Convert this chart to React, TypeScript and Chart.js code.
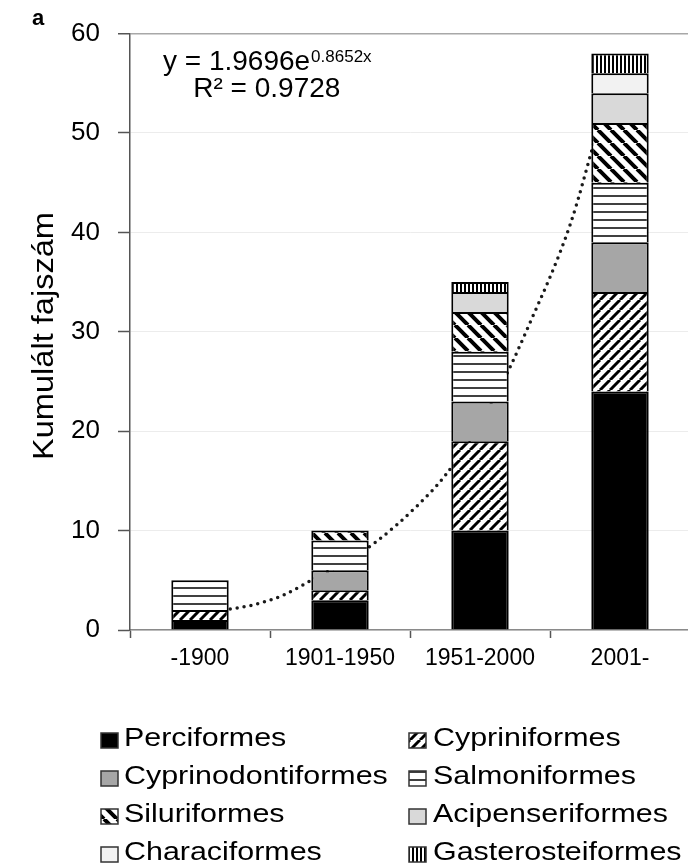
import React, { useEffect, useRef } from 'react';
import { Chart, registerables } from 'chart.js';

Chart.register(...registerables);

// ---------- data ----------
const categories = ['-1900', '1901-1950', '1951-2000', '2001-'];
const seriesNames = [
  'Perciformes',
  'Cypriniformes',
  'Cyprinodontiformes',
  'Salmoniformes',
  'Siluriformes',
  'Acipenseriformes',
  'Characiformes',
  'Gasterosteiformes',
];
const perciformes = [1, 3, 10, 24];
const cypriniformes = [1, 1, 9, 10];
const cyprinodontiformes = [null, 2, 4, 5];
const salmoniformes = [3, 3, 5, 6];
const siluriformes = [null, 1, 4, 6];
const acipenseriformes = [null, null, 2, 3];
const characiformes = [null, null, null, 2];
const gasterosteiformes = [null, null, 1, 2];
const seriesValues = [
  perciformes,
  cypriniformes,
  cyprinodontiformes,
  salmoniformes,
  siluriformes,
  acipenseriformes,
  characiformes,
  gasterosteiformes,
];
const yTicks = [0, 10, 20, 30, 40, 50, 60];
// dotted exponential trend line (x in category index units, 1 = first bar)
const trendX = [1.0, 1.23, 1.48, 1.75, 2.0, 2.23, 2.55, 2.78, 3.0, 3.22, 3.45, 3.79, 4.0];
const trendY = [2.0, 2.5, 3.5, 5.3, 7.0, 8.9, 12.4, 15.5, 19.5, 24.3, 30.5, 40.9, 50.0];
const equationMain = 'y = 1.9696e';
const equationExp = '0.8652x';
const equationR2 = 'R² = 0.9728';
const yTitle = 'Kumulált fajszám';
const panelLabel = 'a';

// ---------- styles ----------
type Kind = 'solid' | 'fwd' | 'back' | 'horiz' | 'vert';
const seriesKinds: Kind[] = ['solid', 'fwd', 'solid', 'horiz', 'back', 'solid', 'solid', 'vert'];
const seriesColors = ['#000000', '#ffffff', '#a6a6a6', '#ffffff', '#ffffff', '#d9d9d9', '#f2f2f2', '#ffffff'];
const FONT = '"Liberation Sans", Arial, Helvetica, sans-serif';

function makeFill(ctx: CanvasRenderingContext2D, kind: Kind, color: string): any {
  if (kind === 'solid') return color;
  const t = document.createElement('canvas');
  let w = 10;
  let h = 10;
  if (kind === 'back') { w = 13; h = 13; }
  if (kind === 'horiz') { w = 4; h = 8; }
  if (kind === 'vert') { w = 4; h = 4; }
  t.width = w;
  t.height = h;
  const g = t.getContext('2d')!;
  g.fillStyle = '#ffffff';
  g.fillRect(0, 0, w, h);
  if (kind === 'fwd') {
    g.strokeStyle = '#000';
    g.lineWidth = 3;
    g.beginPath();
    for (const k of [-1, 0, 1]) {
      g.moveTo(k * w, h);
      g.lineTo(k * w + w, 0);
    }
    g.stroke();
  } else if (kind === 'back') {
    g.strokeStyle = '#000';
    g.lineWidth = 4;
    g.beginPath();
    for (const k of [-1, 0, 1]) {
      g.moveTo(k * w, 0);
      g.lineTo(k * w + w, h);
    }
    g.stroke();
  } else if (kind === 'horiz') {
    g.fillStyle = '#404040';
    g.fillRect(0, 3, w, 2);
  } else if (kind === 'vert') {
    g.fillStyle = '#000';
    g.fillRect(0, 0, 2, h);
  }
  return ctx.createPattern(t, 'repeat');
}

const textPlugin = {
  id: 'customText',
  afterDraw(chart: any) {
    const ctx: CanvasRenderingContext2D = chart.ctx;
    ctx.save();
    ctx.fillStyle = '#000';
    ctx.textAlign = 'left';
    ctx.textBaseline = 'alphabetic';

    // panel label
    ctx.font = `bold 22px ${FONT}`;
    ctx.fillText(panelLabel, 32, 25);

    // y-axis title
    ctx.font = `29px ${FONT}`;
    const tw = ctx.measureText(yTitle).width;
    ctx.save();
    ctx.translate(53, 336);
    ctx.rotate(-Math.PI / 2);
    ctx.scale(248 / tw, 1);
    ctx.textAlign = 'center';
    ctx.fillText(yTitle, 0, 0);
    ctx.restore();

    // equation
    ctx.font = `28px ${FONT}`;
    const x0 = 163;
    const w1 = ctx.measureText(equationMain).width;
    ctx.fillText(equationMain, x0, 70);
    ctx.font = `17px ${FONT}`;
    const w2 = ctx.measureText(equationExp).width;
    ctx.fillText(equationExp, x0 + w1 + 1, 62);
    ctx.font = `28px ${FONT}`;
    ctx.textAlign = 'center';
    ctx.fillText(equationR2, x0 + (w1 + w2) / 2, 97);
    ctx.textAlign = 'left';

    // legend
    const bars = chart.data.datasets.filter((d: any) => d.type === 'bar');
    const swX = [101, 409];
    const txX = [124, 433];
    bars.forEach((d: any, i: number) => {
      const col = i % 2;
      const row = Math.floor(i / 2);
      const base = 746 + row * 38;
      ctx.fillStyle = d.backgroundColor;
      ctx.fillRect(swX[col], base - 13, 17, 15);
      ctx.strokeStyle = '#333';
      ctx.lineWidth = 1.5;
      ctx.strokeRect(swX[col], base - 13, 17, 15);
      ctx.fillStyle = '#000';
      ctx.font = `26px ${FONT}`;
      ctx.save();
      ctx.translate(txX[col], base);
      ctx.scale(1.17, 1);
      ctx.fillText(d.label, 0, 0);
      ctx.restore();
    });
    ctx.restore();
  },
};

export default function App() {
  const ref = useRef<HTMLCanvasElement>(null);

  useEffect(() => {
    const canvas = ref.current!;
    const ctx = canvas.getContext('2d')!;
    Chart.defaults.font.family = FONT;
    Chart.defaults.color = '#000';

    const barSets: any[] = seriesNames.map((name, i) => ({
      type: 'bar',
      label: name,
      data: seriesValues[i],
      backgroundColor: makeFill(ctx, seriesKinds[i], seriesColors[i]),
      borderColor: '#000',
      borderWidth: 2,
      barPercentage: 0.41,
      categoryPercentage: 1,
      grouped: false,
      stack: 'all',
      xAxisID: 'x',
      yAxisID: 'y',
      order: 0,
    }));

    const trendSet: any = {
      type: 'line',
      label: 'trend',
      data: trendX.map((x, i) => ({ x, y: trendY[i] })),
      xAxisID: 'x2',
      yAxisID: 'y2',
      borderColor: '#1a1a1a',
      borderWidth: 3.5,
      borderDash: [0, 7],
      borderCapStyle: 'round',
      pointRadius: 0,
      fill: false,
      cubicInterpolationMode: 'monotone',
      order: 1,
    };

    const chart = new Chart(canvas, {
      type: 'bar',
      data: { labels: categories, datasets: [...barSets, trendSet] },
      options: {
        responsive: false,
        animation: false,
        devicePixelRatio: 1,
        layout: { padding: { top: 32, right: 10, left: 0, bottom: 0 } },
        plugins: { legend: { display: false }, tooltip: { enabled: false } },
        scales: {
          x: {
            type: 'category',
            stacked: true,
            offset: true,
            grid: {
              display: true,
              drawOnChartArea: false,
              drawTicks: true,
              tickLength: 8,
              tickColor: '#555',
              tickWidth: 1.5,
              offset: true,
            },
            border: { display: true, color: '#8a8a8a', width: 1.5 },
            ticks: { font: { size: 23 }, color: '#000', padding: 7, maxRotation: 0, autoSkip: false },
            afterFit: (s: any) => { s.height = 233; },
          },
          y: {
            stacked: true,
            min: 0,
            max: 60,
            afterBuildTicks: (s: any) => { s.ticks = yTicks.map((v) => ({ value: v })); },
            ticks: { font: { size: 26 }, color: '#000', padding: 18 },
            grid: {
              color: (c: any) => (c.tick && c.tick.value === 60 ? '#a8a8a8' : '#ececec'),
              lineWidth: (c: any) => (c.tick && c.tick.value === 60 ? 1.5 : 1),
              tickLength: 12,
              tickColor: '#555',
              tickWidth: 1.5,
              drawTicks: true,
            },
            border: { display: true, color: '#555', width: 1.5 },
            afterFit: (s: any) => { s.width = 130; },
          },
          x2: { type: 'linear', display: false, min: 0.5, max: 4.5, stacked: false },
          y2: { type: 'linear', display: false, min: 0, max: 60, stacked: false },
        },
      } as any,
      plugins: [textPlugin],
    } as any);

    return () => chart.destroy();
  }, []);

  return (
    <div
      style={{
        position: 'fixed',
        left: 0,
        top: 0,
        width: 688,
        height: 863,
        overflow: 'hidden',
        background: '#fff',
      }}
    >
      <canvas ref={ref} width={700} height={863} style={{ display: 'block', width: 700, height: 863 }} />
    </div>
  );
}
